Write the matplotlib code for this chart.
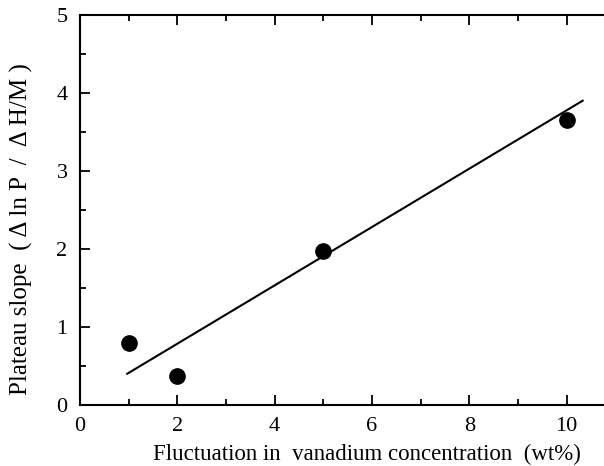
import matplotlib
matplotlib.use("Agg")
import matplotlib.pyplot as plt
from matplotlib.ticker import MultipleLocator

plt.rcParams['font.family'] = ['Liberation Serif', 'DejaVu Serif']

# measured points
conc = [1, 2, 5, 10]
slope = [0.80, 0.37, 1.97, 3.65]

# fitted line end points
fit_x = [0.97, 10.33]
fit_y = [0.40, 3.90]

fig = plt.figure(figsize=(6.04, 4.66), dpi=100)
ax = fig.add_axes([0.1325, 0.131, 0.87, 0.837])

ax.plot(fit_x, fit_y, color='black', lw=1.5)
ax.plot(conc, slope, 'o', color='black', ms=11)

ax.set_xlim(0, 10.8)
ax.set_ylim(0, 5)
ax.xaxis.set_major_locator(MultipleLocator(2))
ax.xaxis.set_minor_locator(MultipleLocator(1))
ax.yaxis.set_major_locator(MultipleLocator(1))
ax.yaxis.set_minor_locator(MultipleLocator(0.5))
ax.tick_params(which='both', direction='in', top=True, right=False,
               labelsize=16, width=1.3, pad=9)
ax.tick_params(which='major', length=7)
ax.tick_params(which='minor', length=4)
for s in ['left', 'bottom', 'top']:
    ax.spines[s].set_linewidth(1.5)
ax.spines['right'].set_visible(False)

ax.set_xlabel('Fluctuation in  vanadium concentration  (wt%)', fontsize=16.5)
ax.xaxis.set_label_coords(0.546, -0.1)
ax.set_ylabel('Plateau slope  ( Δ ln P  /  Δ H/M )', fontsize=18)
ax.yaxis.set_label_coords(-0.09, 0.45)

fig.savefig('out.png', dpi=100)
